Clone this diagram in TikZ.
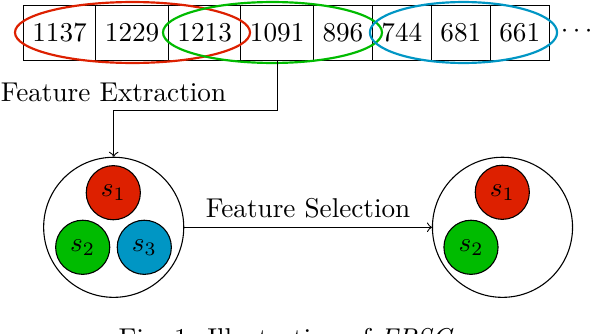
\documentclass[tikz,border=0pt]{standalone}
\usepackage{amsmath}
\usepackage{xcolor}
\usetikzlibrary{shapes.geometric, arrows, positioning}
\definecolor{windowred}{RGB}{221,32,0}
\definecolor{windowgreen}{RGB}{0,187,0}
\definecolor{windowblue}{RGB}{0,150,196}

\begin{document}
\begin{tikzpicture}[
    x=0.3676pt, y=-0.3676pt,
    cell/.style={rectangle, draw=black, minimum height=20.2pt, outer sep=0pt},
    window/.style={ellipse, thick, inner sep=0pt, minimum height=22.4pt},
    group/.style={circle, draw=black, minimum size=51.5pt},
    feature/.style={circle, draw=black, minimum size=19.9pt, inner sep=0pt},
    arrow/.style={->}
]
\useasboundingbox (0,0) rectangle (594,334);

\node (c1) [cell, anchor=west] at (23.3,32.7) {1137};
\node (c2) [cell, right=0pt of c1] {1229};
\node (c3) [cell, right=0pt of c2] {1213};
\node (c4) [cell, right=0pt of c3] {1091};
\node (c5) [cell, right=0pt of c4] {896};
\node (c6) [cell, right=0pt of c5] {744};
\node (c7) [cell, right=0pt of c6] {681};
\node (c8) [cell, right=0pt of c7] {661};
\node (dots) at (579,31) {$\cdots$};

\node (win1) [window, draw=windowred, minimum width=86.4pt] at (132.5,32.5) {};
\node (win2) [window, draw=windowgreen, minimum width=80.5pt] at (272.5,32.5) {};
\node (win3) [window, draw=windowblue, minimum width=68.8pt] at (463.5,32.5) {};

\node (fext) at (113.5,92) {Feature Extraction};

\node (allset) [group] at (113.7,227.3) {};
\node (a1) [feature, fill=windowred] at (113.3,192.7) {$s_1$};
\node (a2) [feature, fill=windowgreen] at (82.7,247.3) {$s_2$};
\node (a3) [feature, fill=windowblue] at (144.3,247.3) {$s_3$};

\node (subset) [group] at (502.5,227.3) {};
\node (b1) [feature, fill=windowred] at (502.3,192.3) {$s_1$};
\node (b2) [feature, fill=windowgreen] at (471,247.3) {$s_2$};

\node (caption) [anchor=base] at (286,347.6) {Fig.~1: Illustration of \textit{FPSC}};

\draw [arrow] (c4.south) -- ++(0,50) -| (allset.north);
\draw [arrow] (allset) -- node[above] {Feature Selection} (subset);

\end{tikzpicture}
\end{document}
